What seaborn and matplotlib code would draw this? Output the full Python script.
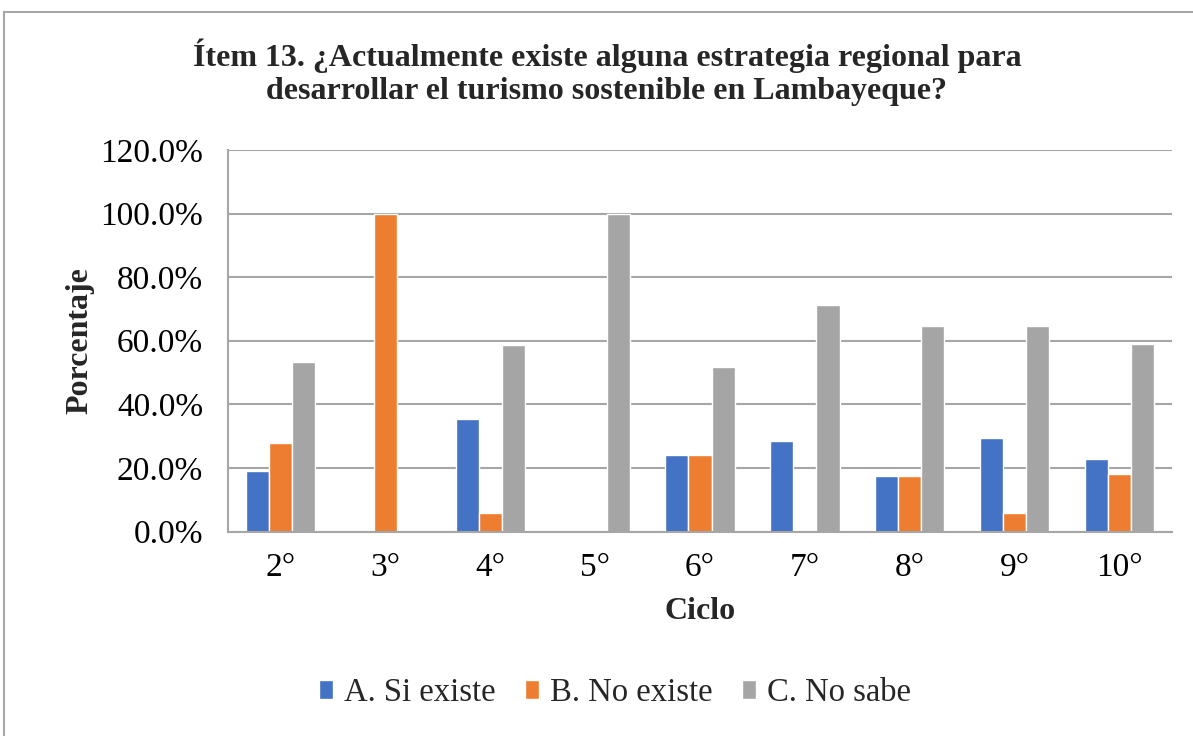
import matplotlib
matplotlib.use("Agg")
import matplotlib.pyplot as plt
import seaborn as sns
import pandas as pd
from matplotlib.patches import Rectangle
from matplotlib.ticker import FuncFormatter

ciclos = ["2°", "3°", "4°", "5°", "6°", "7°", "8°", "9°", "10°"]
si_existe = [19.0, 0.0, 35.3, 0.0, 24.1, 28.6, 17.6, 29.4, 22.7]
no_existe = [27.8, 100.0, 5.9, 0.0, 24.1, 0.0, 17.6, 5.9, 18.2]
no_sabe = [53.3, 0.0, 58.8, 100.0, 51.7, 71.4, 64.7, 64.7, 59.1]
series = ["A. Si existe", "B. No existe", "C. No sabe"]
colors = ["#4472C4", "#ED7D31", "#A5A5A5"]
yticks = [0, 20, 40, 60, 80, 100, 120]

rows = []
for name, vals in zip(series, [si_existe, no_existe, no_sabe]):
    for c, v in zip(ciclos, vals):
        rows.append({"Ciclo": c, "Serie": name, "Valor": v})
df = pd.DataFrame(rows)

sns.set_theme(style="white")
plt.rcParams["font.family"] = ["Liberation Serif", "DejaVu Serif"]

W, H = 1193, 736
fig = plt.figure(figsize=(W / 100, H / 100), dpi=100)
ax = fig.add_axes([228 / W, 1 - 531.5 / H, (1172 - 228) / W, (531.5 - 150) / H])

sns.barplot(data=df, x="Ciclo", y="Valor", hue="Serie", order=ciclos,
            hue_order=series, palette=colors, width=0.66, gap=0,
            saturation=1, ax=ax, legend=True)

ax.set_ylim(0, 120)
ax.set_yticks(yticks)
ax.yaxis.set_major_formatter(FuncFormatter(lambda v, p: f"{v:.1f}%"))
ax.grid(axis="y", color="#A6A6A6", linewidth=1.5)
ax.set_axisbelow(True)
for s in ["top", "right"]:
    ax.spines[s].set_visible(False)
ax.spines["left"].set_color("#A6A6A6")
ax.spines["bottom"].set_color("#A6A6A6")
ax.spines["left"].set_linewidth(1.5)
ax.spines["bottom"].set_linewidth(1.5)
ax.tick_params(axis="both", labelsize=24, length=0, colors="black")
ax.tick_params(axis="x", pad=15)
ax.tick_params(axis="y", pad=18)

ax.set_xlabel("Ciclo", fontsize=23, fontweight="bold", labelpad=10)
ax.set_ylabel("Porcentaje", fontsize=23, fontweight="bold", labelpad=4)

fig.text(607 / W, 1 - 72 / H,
         "Ítem 13. ¿Actualmente existe alguna estrategia regional para\n"
         "desarrollar el turismo sostenible en Lambayeque?",
         ha="center", va="center", fontsize=23, fontweight="bold",
         linespacing=1.17)

handles, labels = ax.get_legend_handles_labels()
ax.legend_.remove()
fig.legend(handles, labels, loc="center", bbox_to_anchor=(615 / W, 1 - 693 / H),
           ncol=3, frameon=False, fontsize=23.5, handlelength=0.42,
           handleheight=0.5, handletextpad=0.35, columnspacing=0.9)

fig.patches.append(Rectangle((4 / W, -0.01), 1.1, 1 - 12 / H + 0.01,
                             transform=fig.transFigure, fill=False,
                             edgecolor="#A6A6A6", linewidth=1.5))

fig.savefig("out.png", dpi=100, facecolor="white")
